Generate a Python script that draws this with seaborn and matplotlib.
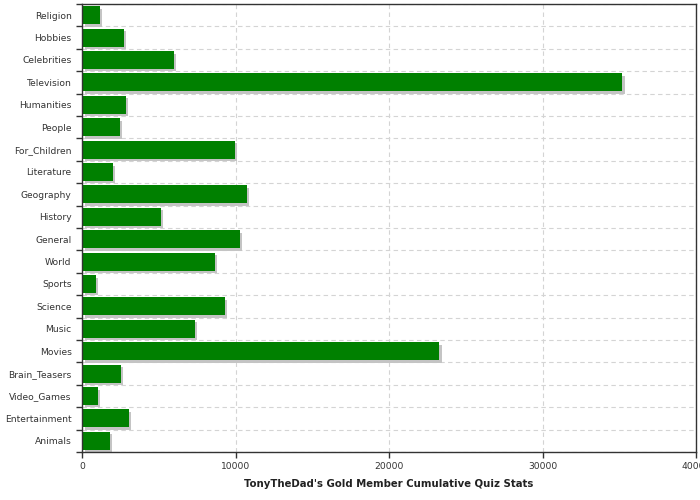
import matplotlib
matplotlib.use("Agg")
import matplotlib.pyplot as plt
import matplotlib.patheffects as pe
import seaborn as sns
import pandas as pd
import numpy as np

categories = ["Religion", "Hobbies", "Celebrities", "Television", "Humanities", "People",
              "For_Children", "Literature", "Geography", "History", "General", "World",
              "Sports", "Science", "Music", "Movies", "Brain_Teasers", "Video_Games",
              "Entertainment", "Animals"]
values = [1155, 2720, 5980, 35200, 2850, 2460, 9960, 2000, 10740, 5130, 10290, 8660,
          890, 9310, 7350, 23270, 2520, 1020, 3050, 1810]
x_ticks = [0, 10000, 20000, 30000, 40000]
x_label = "TonyTheDad's Gold Member Cumulative Quiz Stats"

df = pd.DataFrame({"category": categories, "value": values})

sns.set_theme(style="white")
plt.rcParams['font.family'] = ['DejaVu Sans']

fig = plt.figure(figsize=(7, 5), dpi=100)
ax = fig.add_axes([82/700, 1-452/500, (696-82)/700, (452-4)/500])

sns.barplot(data=df, x="value", y="category", orient="h", color="#008000",
            saturation=1, width=0.8, ax=ax, order=categories)
for p in ax.patches:
    p.set_linewidth(0)
    p.set_path_effects([pe.SimplePatchShadow(offset=(1.8, -1.8), shadow_rgbFace="#c4c4c4", alpha=1.0),
                        pe.Normal()])

n = len(categories)
ax.set_xlim(0, 40000)
ax.set_ylim(n - 0.5, -0.5)
ax.set_xticks(x_ticks)
ax.set_xticklabels([str(t) for t in x_ticks])
ax.set_yticks(np.arange(n))
ax.set_yticklabels(categories)
ax.set_yticks(np.arange(n + 1) - 0.5, minor=True)

ax.tick_params(axis="y", which="major", length=0, pad=7.5, labelsize=6.6, labelcolor="#333333")
ax.tick_params(axis="y", which="minor", length=4, width=1, color="#333333", direction="out", left=True)
ax.tick_params(axis="x", which="major", length=4, width=1, color="#333333", direction="out",
               bottom=True, labelsize=6.6, labelcolor="#333333", pad=3)

ax.set_axisbelow(True)
ax.grid(False)
ax.xaxis.grid(True, which="major", color="#d4d4d4", linestyle=(0, (4, 3)), linewidth=0.8)
ax.yaxis.grid(True, which="minor", color="#d4d4d4", linestyle=(0, (4, 3)), linewidth=0.8)

for s in ax.spines.values():
    s.set_color("#333333")
    s.set_linewidth(1)
    s.set_visible(True)

ax.set_ylabel("")
ax.set_xlabel(x_label, fontsize=7.3, fontweight="bold", color="#222222", labelpad=6)

fig.savefig("out.png", dpi=100)
